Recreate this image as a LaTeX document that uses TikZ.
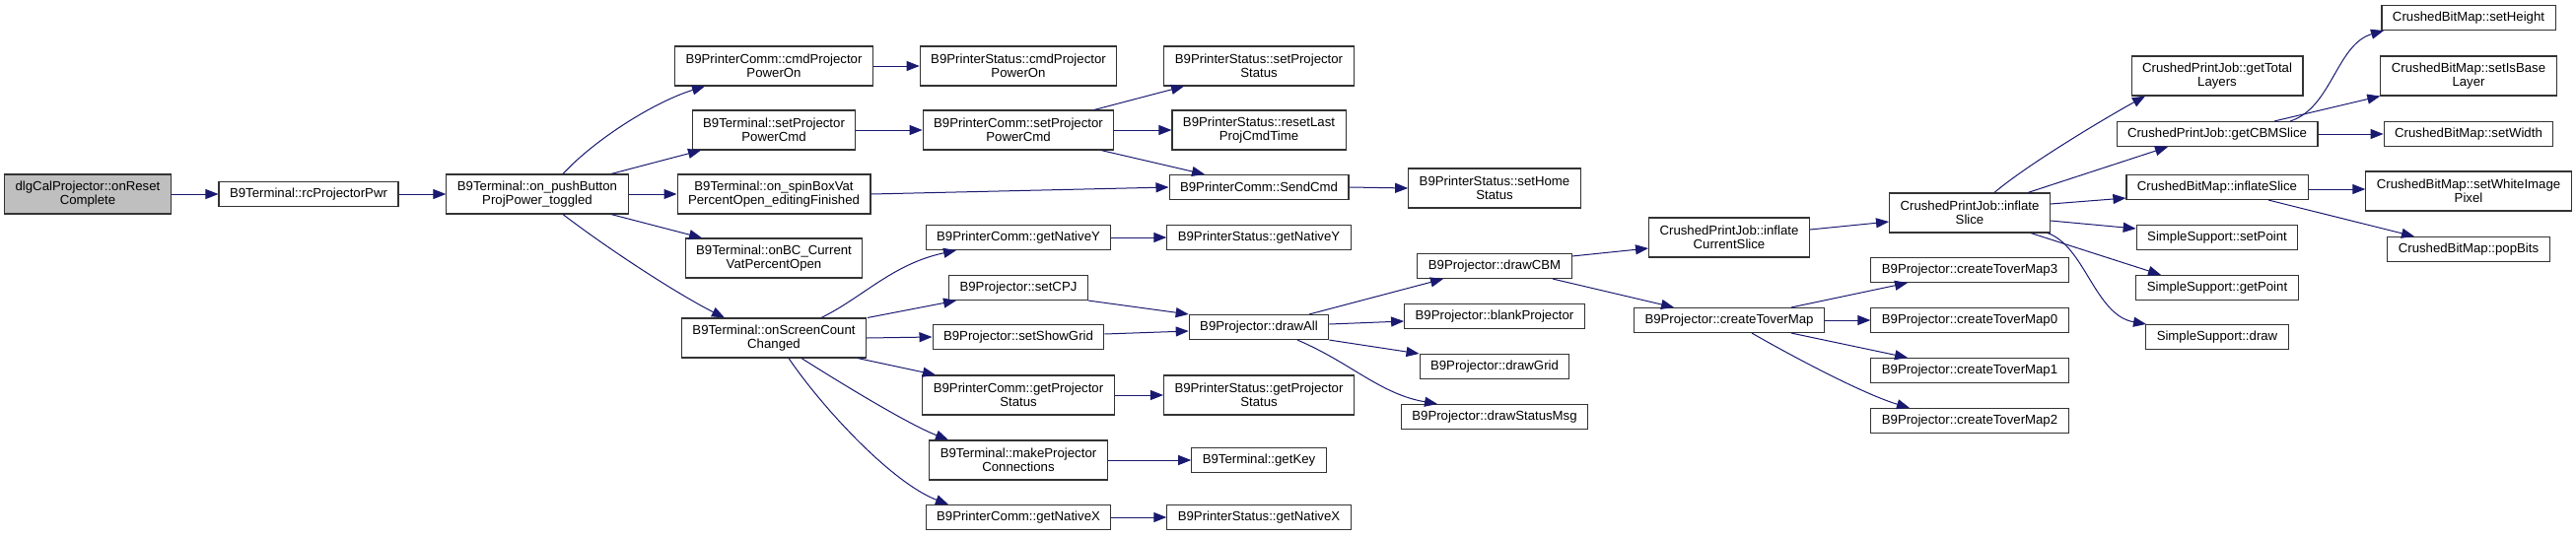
\documentclass[tikz,border=0pt]{standalone}
\usepackage{fontspec}
\setmainfont{Liberation Sans}
\usetikzlibrary{arrows.meta}
\definecolor{callblue}{HTML}{191970}
\definecolor{rootgray}{HTML}{BFBFBF}
\begin{document}
\begin{tikzpicture}[x=1pt,y=-1pt,
  fn/.style={draw=black!80,line width=1.1pt,fill=white,inner xsep=11pt,inner ysep=1pt,
    minimum height=25pt,align=center,font=\fontsize{13.2}{14}\selectfont},
  fntwo/.style={fn,minimum height=40pt},
  call/.style={draw=callblue,line width=1pt,-{Triangle[length=13pt,width=10pt]}}]
\useasboundingbox (0,0) rectangle (2613,544);
\node[fntwo,fill=rootgray] (root) at (89,197) {dlgCalProjector::onReset\\Complete};
\node[fn] (rcpwr) at (313,197) {B9Terminal::rcProjectorPwr};
\node[fntwo] (pushbtn) at (545,197) {B9Terminal::on\_pushButton\\ProjPower\_toggled};
\node[fntwo] (cmdon) at (785,67) {B9PrinterComm::cmdProjector\\PowerOn};
\node[fntwo] (tsetpwr) at (785,132) {B9Terminal::setProjector\\PowerCmd};
\node[fntwo] (spinbox) at (785,197) {B9Terminal::on\_spinBoxVat\\PercentOpen\_editingFinished};
\node[fntwo] (onbc) at (785,262) {B9Terminal::onBC\_Current\\VatPercentOpen};
\node[fntwo] (screencnt) at (785,343) {B9Terminal::onScreenCount\\Changed};
\node[fntwo] (scmdon) at (1033,67) {B9PrinterStatus::cmdProjector\\PowerOn};
\node[fntwo] (csetpwr) at (1033,132) {B9PrinterComm::setProjector\\PowerCmd};
\node[fn] (cnaty) at (1033,241) {B9PrinterComm::getNativeY};
\node[fn] (setcpj) at (1033,292) {B9Projector::setCPJ};
\node[fn] (showgrid) at (1033,342) {B9Projector::setShowGrid};
\node[fntwo] (cprojst) at (1033,401) {B9PrinterComm::getProjector\\Status};
\node[fntwo] (makeconn) at (1033,467) {B9Terminal::makeProjector\\Connections};
\node[fn] (cnatx) at (1033,525) {B9PrinterComm::getNativeX};
\node[fntwo] (ssetst) at (1277,67) {B9PrinterStatus::setProjector\\Status};
\node[fntwo] (resetlast) at (1277,132) {B9PrinterStatus::resetLast\\ProjCmdTime};
\node[fn] (sendcmd) at (1277,190) {B9PrinterComm::SendCmd};
\node[fn] (snaty) at (1277,241) {B9PrinterStatus::getNativeY};
\node[fn] (drawall) at (1277,332) {B9Projector::drawAll};
\node[fntwo] (sprojst) at (1277,401) {B9PrinterStatus::getProjector\\Status};
\node[fn] (getkey) at (1277,467) {B9Terminal::getKey};
\node[fn] (snatx) at (1277,525) {B9PrinterStatus::getNativeX};
\node[fntwo] (homest) at (1516,191) {B9PrinterStatus::setHome\\Status};
\node[fn] (drawcbm) at (1516,270) {B9Projector::drawCBM};
\node[fn] (blank) at (1516,321) {B9Projector::blankProjector};
\node[fn] (drawgrid) at (1516,372) {B9Projector::drawGrid};
\node[fn] (statusmsg) at (1516,423) {B9Projector::drawStatusMsg};
\node[fntwo] (inflcur) at (1754,241) {CrushedPrintJob::inflate\\CurrentSlice};
\node[fn] (tover) at (1754,325) {B9Projector::createToverMap};
\node[fntwo] (jinfl) at (1998,216) {CrushedPrintJob::inflate\\Slice};
\node[fn] (toverthree) at (1998,274) {B9Projector::createToverMap3};
\node[fn] (toverzero) at (1998,325) {B9Projector::createToverMap0};
\node[fn] (toverone) at (1998,376) {B9Projector::createToverMap1};
\node[fn] (tovertwo) at (1998,427) {B9Projector::createToverMap2};
\node[fntwo] (totallay) at (2249,77) {CrushedPrintJob::getTotal\\Layers};
\node[fn] (cbmslice) at (2249,136) {CrushedPrintJob::getCBMSlice};
\node[fn] (binfl) at (2249,190) {CrushedBitMap::inflateSlice};
\node[fn] (setpt) at (2249,241) {SimpleSupport::setPoint};
\node[fn] (getpt) at (2249,292) {SimpleSupport::getPoint};
\node[fn] (ssdraw) at (2249,342) {SimpleSupport::draw};
\node[fn] (setheight) at (2504,18) {CrushedBitMap::setHeight};
\node[fntwo] (setbase) at (2504,77) {CrushedBitMap::setIsBase\\Layer};
\node[fn] (setwidth) at (2504,136) {CrushedBitMap::setWidth};
\node[fntwo] (setwhite) at (2504,194) {CrushedBitMap::setWhiteImage\\Pixel};
\node[fn] (popbits) at (2504,253) {CrushedBitMap::popBits};
\draw[call] (root) -- (rcpwr);
\draw[call] (rcpwr) -- (pushbtn);
\draw[call] ([xshift=26]pushbtn.north) .. controls (605,140) and (665,103) .. ([xshift=-70]cmdon.south);
\draw[call] ([xshift=75]pushbtn.north) -- ([xshift=-74]tsetpwr.south);
\draw[call] (pushbtn) -- (spinbox);
\draw[call] ([xshift=75]pushbtn.south) -- ([xshift=-73]onbc.north);
\draw[call] ([xshift=26]pushbtn.south) .. controls (620,255) and (690,300) .. ([xshift=-50]screencnt.north);
\draw[call] (cmdon) -- (scmdon);
\draw[call] (tsetpwr) -- (csetpwr);
\draw[call] ([xshift=77]csetpwr.north) -- ([xshift=-76]ssetst.south);
\draw[call] (csetpwr) -- (resetlast);
\draw[call] ([xshift=84]csetpwr.south) -- ([xshift=-55]sendcmd.north);
\draw[call] (spinbox.east) -- (sendcmd.west);
\draw[call] (sendcmd.east) -- (homest.west);
\draw[call] (cnaty) -- (snaty);
\draw[call] ([xshift=48]screencnt.north) .. controls (875,302) and (905,268) .. ([xshift=-63]cnaty.south);
\draw[call] ([xshift=95]screencnt.north) -- ([xshift=-63]setcpj.south);
\draw[call] (screencnt.east) -- (showgrid.west);
\draw[call] ([xshift=85]screencnt.south) -- ([xshift=-84]cprojst.north);
\draw[call] ([xshift=28]screencnt.south) .. controls (850,387) and (920,430) .. ([xshift=-71]makeconn.north);
\draw[call] ([xshift=15]screencnt.south) .. controls (835,415) and (905,490) .. ([xshift=-71]cnatx.north);
\draw[call] (cprojst) -- (sprojst);
\draw[call] (makeconn) -- (getkey);
\draw[call] (cnatx) -- (snatx);
\draw[call] (setcpj.south east) -- (drawall.north west);
\draw[call] ([yshift=3]showgrid.east) -- ([yshift=-4]drawall.west);
\draw[call] ([xshift=51]drawall.north) -- ([xshift=-52]drawcbm.south);
\draw[call] ([yshift=3]drawall.east) -- ([yshift=-5]blank.west);
\draw[call] (drawall.south east) -- (drawgrid.north west);
\draw[call] ([xshift=39]drawall.south) .. controls (1370,368) and (1400,400) .. ([xshift=-58]statusmsg.north);
\draw[call] ([yshift=10]drawcbm.east) -- ([yshift=-11]inflcur.west);
\draw[call] ([xshift=59]drawcbm.south) -- ([xshift=-56]tover.north);
\draw[call] ([yshift=8]inflcur.east) -- ([yshift=-9]jinfl.west);
\draw[call] ([xshift=63]tover.north) -- ([xshift=-63]toverthree.south);
\draw[call] (tover) -- (toverzero);
\draw[call] ([xshift=63]tover.south) -- ([xshift=-63]toverone.north);
\draw[call] ([xshift=23]tover.south) .. controls (1815,360) and (1890,400) .. ([xshift=-61]tovertwo.north);
\draw[call] ([xshift=25]jinfl.north) .. controls (2055,168) and (2135,120) .. ([xshift=-73]totallay.south);
\draw[call] ([xshift=59]jinfl.north) -- ([xshift=-50]cbmslice.south);
\draw[call] ([yshift=9]jinfl.east) -- ([yshift=-11]binfl.west);
\draw[call] ([yshift=-8]jinfl.east) -- ([yshift=9]setpt.west);
\draw[call] ([xshift=62]jinfl.south) -- ([xshift=-57]getpt.north);
\draw[call] ([xshift=79]jinfl.south) .. controls (2115,250) and (2125,320) .. ([xshift=-72]ssdraw.north);
\draw[call] ([xshift=74]cbmslice.north) .. controls (2365,110) and (2370,45) .. ([xshift=-86]setheight.south);
\draw[call] ([xshift=58]cbmslice.north) -- (setbase.south west);
\draw[call] (cbmslice) -- (setwidth);
\draw[call] ([yshift=-2]binfl.east) -- ([yshift=2]setwhite.west);
\draw[call] ([xshift=52]binfl.south) -- ([xshift=-55]popbits.north);
\end{tikzpicture}
\end{document}
